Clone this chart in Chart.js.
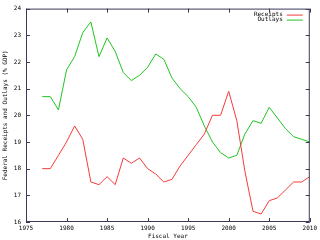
<!DOCTYPE html>
<html>
<head>
<meta charset="utf-8">
<script src="https://cdn.jsdelivr.net/npm/chart.js@4.4.1/dist/chart.umd.min.js"></script>
<style>
  html, body { margin: 0; padding: 0; background: #fff; }
  canvas { display: block; }
</style>
</head>
<body>
<canvas id="chart" width="320" height="240"></canvas>
<script>
// fiscal years and % of GDP
const years = [1977, 1978, 1979, 1980, 1981, 1982, 1983, 1984, 1985, 1986,
               1987, 1988, 1989, 1990, 1991, 1992, 1993, 1994, 1995, 1996,
               1997, 1998, 1999, 2000, 2001, 2002, 2003, 2004, 2005, 2006,
               2007, 2008, 2009, 2010];
const receipts = [18.0, 18.0, 18.5, 19.0, 19.6, 19.1, 17.5, 17.4, 17.7, 17.4,
                  18.4, 18.2, 18.4, 18.0, 17.8, 17.5, 17.6, 18.1, 18.5, 18.9,
                  19.3, 20.0, 20.0, 20.9, 19.8, 17.9, 16.4, 16.3, 16.8, 16.9,
                  17.2, 17.5, 17.5, 17.7];
const outlays = [20.7, 20.7, 20.2, 21.7, 22.2, 23.1, 23.5, 22.2, 22.9, 22.4,
                 21.6, 21.3, 21.5, 21.8, 22.3, 22.1, 21.4, 21.0, 20.7, 20.3,
                 19.6, 19.0, 18.6, 18.4, 18.5, 19.3, 19.8, 19.7, 20.3, 19.9,
                 19.5, 19.2, 19.1, 19.0];
const xTicks = [1975, 1980, 1985, 1990, 1995, 2000, 2005, 2010];
const yTicks = [16, 17, 18, 19, 20, 21, 22, 23, 24];

const seriesNames = ['Receipts', 'Outlays'];
const RED = '#f43c3c';
const GREEN = '#22c422';
const FRAME = '#3a3a5a';
const MONO = '"DejaVu Sans Mono", monospace';

function toPoints(vals) {
    return years.map((y, i) => ({ x: y, y: vals[i] }));
}

// gnuplot-ish frame: box border, inward ticks on all four sides, key in the corner
const framePlugin = {
    id: 'frame',
    afterDraw(chart) {
        const ctx = chart.ctx;
        const a = chart.chartArea;
        const xs = chart.scales.x;
        const ys = chart.scales.y;
        const tl = 4;
        ctx.save();
        ctx.strokeStyle = FRAME;
        ctx.lineWidth = 1;
        ctx.strokeRect(a.left + 0.5, a.top + 0.5, a.right - a.left - 1, a.bottom - a.top - 1);
        ctx.beginPath();
        xTicks.forEach(t => {
            const px = Math.round(xs.getPixelForValue(t)) + 0.5;
            ctx.moveTo(px, a.bottom);
            ctx.lineTo(px, a.bottom - tl);
            ctx.moveTo(px, a.top);
            ctx.lineTo(px, a.top + tl);
        });
        yTicks.forEach(t => {
            const py = Math.round(ys.getPixelForValue(t)) + 0.5;
            ctx.moveTo(a.left, py);
            ctx.lineTo(a.left + tl, py);
            ctx.moveTo(a.right, py);
            ctx.lineTo(a.right - tl, py);
        });
        ctx.stroke();

        // key
        ctx.font = '6px ' + MONO;
        ctx.textAlign = 'right';
        ctx.textBaseline = 'middle';
        const colors = [RED, GREEN];
        seriesNames.forEach((name, i) => {
            const ky = a.top + 6 + i * 5;
            ctx.fillStyle = '#000';
            ctx.fillText(name, a.right - 27, ky);
            ctx.strokeStyle = colors[i];
            ctx.beginPath();
            ctx.moveTo(a.right - 23, ky + 0.5);
            ctx.lineTo(a.right - 7, ky + 0.5);
            ctx.stroke();
        });
        ctx.restore();
    }
};

const ctx = document.getElementById('chart').getContext('2d');
const chart = new Chart(ctx, {
    type: 'line',
    data: {
        datasets: [
            {
                label: seriesNames[0],
                data: toPoints(receipts),
                borderColor: RED,
                borderWidth: 1,
                pointRadius: 0,
                tension: 0
            },
            {
                label: seriesNames[1],
                data: toPoints(outlays),
                borderColor: GREEN,
                borderWidth: 1,
                pointRadius: 0,
                tension: 0
            }
        ]
    },
    options: {
        responsive: false,
        animation: false,
        layout: { padding: { top: 6, right: 10, left: 0, bottom: 0 } },
        plugins: {
            legend: { display: false },
            tooltip: { enabled: false }
        },
        scales: {
            x: {
                type: 'linear',
                min: 1975,
                max: 2010,
                afterBuildTicks: s => { s.ticks = xTicks.map(v => ({ value: v })); },
                afterFit: s => { s.height = 18; },
                grid: { display: false, drawTicks: false },
                border: { display: false },
                ticks: {
                    color: '#000',
                    padding: 3,
                    maxRotation: 0,
                    autoSkip: false,
                    font: { family: MONO, size: 6 },
                    callback: v => String(v)
                },
                title: {
                    display: true,
                    text: 'Fiscal Year',
                    color: '#000',
                    padding: 0,
                    font: { family: MONO, size: 6 }
                }
            },
            y: {
                min: 16,
                max: 24,
                afterBuildTicks: s => { s.ticks = yTicks.map(v => ({ value: v })); },
                afterFit: s => { s.width = 26; },
                grid: { display: false, drawTicks: false },
                border: { display: false },
                ticks: {
                    color: '#000',
                    padding: 5,
                    autoSkip: false,
                    font: { family: MONO, size: 6 }
                },
                title: {
                    display: true,
                    text: 'Federal Receipts and Outlays (% GDP)',
                    color: '#000',
                    padding: { top: 2, bottom: 0 },
                    font: { family: MONO, size: 6 }
                }
            }
        }
    },
    plugins: [framePlugin]
});
</script>
</body>
</html>
